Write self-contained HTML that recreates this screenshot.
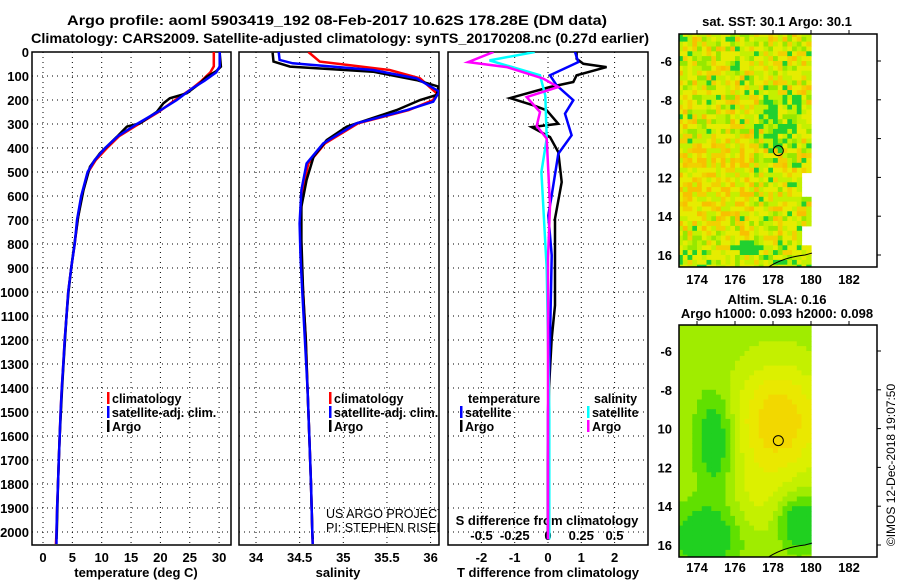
<!DOCTYPE html>
<html><head><meta charset="utf-8">
<style>
html,body{margin:0;padding:0;background:#fff;}
svg{display:block;font-family:"Liberation Sans",Arial,sans-serif;}
.t{font-weight:bold;font-size:13px;fill:#000;}
.l{font-weight:bold;font-size:12.5px;fill:#000;}
.ti{font-weight:bold;font-size:14px;fill:#000;}
.g{stroke:#000;stroke-width:1;stroke-dasharray:1 4;fill:none;}
.f{stroke:#000;stroke-width:1.5;fill:none;}
</style></head>
<body>
<svg id="c" width="900" height="580" viewBox="0 0 900 580">
<defs>
<clipPath id="cp1"><rect x="32" y="52" width="199" height="493"/></clipPath>
<clipPath id="cp2"><rect x="239" y="52" width="200" height="493"/></clipPath>
<clipPath id="cp3"><rect x="448" y="52" width="200" height="493"/></clipPath>
<clipPath id="cpm1"><rect x="679" y="34" width="198" height="233"/></clipPath>
<clipPath id="cpm2"><rect x="679" y="325" width="198" height="232"/></clipPath>
</defs>
<text class="ti" x="337" y="25" text-anchor="middle" textLength="540" lengthAdjust="spacingAndGlyphs">Argo profile: aoml 5903419_192 08-Feb-2017 10.62S 178.28E (DM data)</text>
<text class="ti" x="340" y="43" text-anchor="middle" textLength="618" lengthAdjust="spacingAndGlyphs">Climatology: CARS2009. Satellite-adjusted climatology: synTS_20170208.nc (0.27d earlier)</text>
<g id="layer"></g>
</svg>
<script>
// ---------- data ----------
const depthTicks = [0,100,200,300,400,500,600,700,800,900,1000,1100,1200,1300,1400,1500,1600,1700,1800,1900,2000];
const tempTicks = [0,5,10,15,20,25,30];
const salTicks = [34,34.5,35,35.5,36];
const salTickLabels = ["34","34.5","35","35.5","36"];
const tdiffTicks = [-2,-1,0,1,2];
const sdiffTicks = [-0.5,-0.25,0,0.25,0.5];
const sdiffTickLabels = ["-0.5","-0.25","0","0.25","0.5"];

const climTDepth = [0,60,85,120,150,200,250,300,350,400,450,500,600,700,800,900,1000,1100,1200,1300,1400,1500,1600,1700,1800,1900,2000,2050];
const climT = [29.1,29.1,28.5,27,25.5,22.5,19.7,16.3,13.0,10.9,9.0,7.7,6.6,5.9,5.4,4.8,4.3,4.0,3.7,3.45,3.2,3.0,2.85,2.7,2.55,2.4,2.3,2.2];
const satT = [30.1,30.1,29.5,27.5,25.5,22.8,19.5,16,12.8,10.6,8.8,7.6,6.5,5.8,5.4,4.8,4.3,4.0,3.7,3.45,3.2,3.0,2.85,2.7,2.55,2.4,2.3,2.3];
const argoTDepth = [4,61,80,103,129,172,193,214,249,297,311,353,422,478,575,686,783,900,1000,1100,1200,1300,1400,1500,1600,1700,1800,1900,2000,2030];
const argoT = [30.1,30.3,29.5,27.9,26.8,24.5,21.6,20.5,19.4,16.5,14.3,12.6,9.7,8.0,6.9,6.0,5.45,4.8,4.35,4.0,3.75,3.5,3.25,3.05,2.85,2.7,2.55,2.45,2.35,2.3];

const climSDepth = [0,40,50,75,110,172,200,242,297,381,464,575,714,853,1000,1200,1400,1600,1800,2000,2050];
const climS = [34.6,34.73,34.96,35.53,35.88,36.07,36.03,35.75,35.17,34.79,34.6,34.53,34.51,34.52,34.54,34.57,34.59,34.61,34.63,34.645,34.65];
const satSDepth = [0,33,47,75,110,165,207,242,297,381,464,575,714,853,1000,1200,1400,1600,1800,2000,2050];
const satS = [34.26,34.27,34.42,35.34,35.84,36.1,36.03,35.73,35.15,34.77,34.58,34.52,34.5,34.51,34.53,34.56,34.59,34.61,34.63,34.645,34.65];
const argoSDepth = [3,40,61,82,117,144,179,200,242,311,367,436,533,644,783,1000,1200,1400,1600,1800,2000,2030];
const argoS = [34.19,34.2,34.39,35.34,35.84,36.09,36.07,35.88,35.61,35.04,34.81,34.66,34.58,34.52,34.52,34.54,34.57,34.59,34.61,34.63,34.645,34.65];

const argoTdDepth = [0,28,49,63,97,125,146,192,222,243,299,313,354,417,542,694,847,1056,1194,1400,1700,2030];
const argoTd = [0.86,0.86,1.06,1.76,0.86,0.76,0.06,-1.14,-0.44,-0.04,0.31,-0.49,0.06,0.31,0.41,0.21,0.21,0.21,0.11,0.03,0,0];
const satTdDepth = [0,42,97,139,201,257,347,424,597,681,847,1200,1500,2030];
const satTd = [0.81,0.91,0.06,0.26,0.76,0.51,0.71,0.31,0.11,0.01,0.11,0.06,0,0];
const argoSdDepth = [0,42,63,111,146,188,250,308,361,639,861,1500,2030];
const argoSd = [-0.41,-0.6,-0.31,-0.035,0.077,-0.16,-0.06,-0.085,-0.01,0.015,0,0,0];
const satSdDepth = [0,35,97,181,361,500,903,1500,2030];
const satSd = [-0.1,-0.44,-0.06,-0.02,-0.01,-0.05,-0.01,0.01,0.01];

const lonTicks = [174,176,178,180,182];
const latTicks = [-6,-8,-10,-12,-14,-16];
const latTickLabels = ["-6","-8","10","12","14","16"];
const argoLon = 178.28, argoLat = -10.62;

// ---------- scales ----------
const yD = d => 52 + d*0.24;
const xT = t => 43 + t*5.87;
const xS = s => 256 + (s-34)*87.3;
const xTd = t => 548 + t*33.3;
const xSd = s => 548 + s*133;
const mxLon = l => 697 + (l-174)*19;
const myLat1 = l => 61 + (-6-l)*19.4;
const myLat2 = l => 351 + (-6-l)*19.4;

const NS = "http://www.w3.org/2000/svg";
const layer = document.getElementById('layer');
function mk(tag, parent){ const e=document.createElementNS(NS,tag); (parent||layer).appendChild(e); return e; }
function txt(s,x,y,cls,anchor,parent){ const e=mk('text',parent); e.textContent=s; e.setAttribute('x',x); e.setAttribute('y',y); if(cls) e.setAttribute('class',cls); if(anchor) e.setAttribute('text-anchor',anchor); return e; }

// ---------- panels ----------
const panels = [
 {x0:32,x1:231,cp:'cp1',name:'temperature-panel'},
 {x0:239,x1:439,cp:'cp2',name:'salinity-panel'},
 {x0:448,x1:648,cp:'cp3',name:'difference-panel'}
];
panels.forEach(p=>{
  const g = mk('g');
  
  
  depthTicks.forEach(d=>{
    if(d===0) return;
    const l=mk('line',g); l.setAttribute('class','g');
    l.setAttribute('x1',p.x0); l.setAttribute('x2',p.x1); l.setAttribute('y1',yD(d)); l.setAttribute('y2',yD(d));
    
    
  });
  p.g=g;
});
function vgrid(g,xs){ xs.forEach(x=>{ const l=mk('line',g); l.setAttribute('class','g'); l.setAttribute('x1',x); l.setAttribute('x2',x); l.setAttribute('y1',52); l.setAttribute('y2',545);
  
   }); }
vgrid(panels[0].g, tempTicks.map(xT));
vgrid(panels[1].g, salTicks.map(xS));
vgrid(panels[2].g, tdiffTicks.map(xTd));
panels.forEach(p=>{
  const r=mk('rect',p.g); r.setAttribute('class','f'); r.setAttribute('x',p.x0); r.setAttribute('y',52); r.setAttribute('width',p.x1-p.x0); r.setAttribute('height',493);
  
  
});
depthTicks.forEach(d=>{
  const t=txt(String(d),29,yD(d)+5,'t','end');
  
  
});
tempTicks.forEach(v=>{ const t=txt(String(v),xT(v),562,'t','middle');
  
   });
salTicks.forEach((v,i)=>{ const t=txt(salTickLabels[i],xS(v),562,'t','middle');
  
   });
tdiffTicks.forEach(v=>{ const t=txt(String(v),xTd(v),562,'t','middle');
  
   });
sdiffTicks.forEach((v,i)=>{ const t=txt(sdiffTickLabels[i],xSd(v),540,'t','middle');
  
   });
let at;
at=txt('temperature (deg C)',136,577,'t','middle');


at=txt('salinity',338,577,'t','middle');


at=txt('T difference from climatology',548,577,'t','middle');


at=txt('S difference from climatology',547,525,'t','middle');



function series(depths, vals, xf, color, cp, name, w){
  const pl=mk('polyline');
  pl.setAttribute('points', depths.map((d,i)=>xf(vals[i]).toFixed(1)+','+yD(d).toFixed(1)).join(' '));
  pl.setAttribute('fill','none'); pl.setAttribute('stroke',color); pl.setAttribute('stroke-width',w||2.5);
  pl.setAttribute('clip-path','url(#'+cp+')');
  
  
}
series(climTDepth, climT, xT, '#ff0000','cp1','temperature-climatology-line');
series(argoTDepth, argoT, xT, '#000000','cp1','temperature-argo-line');
series(climTDepth, satT, xT, '#0000ff','cp1','temperature-satellite-line');
series(climSDepth, climS, xS, '#ff0000','cp2','salinity-climatology-line');
series(argoSDepth, argoS, xS, '#000000','cp2','salinity-argo-line');
series(satSDepth, satS, xS, '#0000ff','cp2','salinity-satellite-line');
series(argoTdDepth, argoTd, xTd, '#000000','cp3','t-diff-argo-line');
series(satTdDepth, satTd, xTd, '#0000ff','cp3','t-diff-satellite-line');
series(satSdDepth, satSd, xSd, '#00ffff','cp3','s-diff-satellite-line');
series(argoSdDepth, argoSd, xSd, '#ff00ff','cp3','s-diff-argo-line');

function legItem(x,y,color,label,name){
  const g=mk('g');
  
  
  const r=mk('rect',g); r.setAttribute('x',x); r.setAttribute('y',y-11); r.setAttribute('width',2.5); r.setAttribute('height',12); r.setAttribute('fill',color);
  txt(label,x+5,y,'l',null,g);
}
legItem(107,403,'#ff0000','climatology','legend-climatology');
legItem(107,417,'#0000ff','satellite-adj. clim.','legend-satellite-temperature');
legItem(107,431,'#000000','Argo','legend-argo-temperature');
legItem(329,403,'#ff0000','climatology','legend-climatology-salinity');
legItem(329,417,'#0000ff','satellite-adj. clim.','legend-satellite-salinity');
legItem(329,431,'#000000','Argo','legend-argo-salinity');
at=txt('temperature',468,403,'l');


at=txt('salinity',594,403,'l');


legItem(460,417,'#0000ff','satellite','legend-t-satellite');
legItem(460,431,'#000000','Argo','legend-t-argo');
legItem(587,417,'#00ffff','satellite','legend-s-satellite');
legItem(587,431,'#ff00ff','Argo','legend-s-argo');
const cr=mk('g'); cr.setAttribute('clip-path','url(#cp2)');


let c1=txt('US ARGO PROJECT',326,518,null,null,cr); c1.setAttribute('font-size','12.5');
let c2=txt('PI: STEPHEN RISER',326,532,null,null,cr); c2.setAttribute('font-size','12.5');

// ---------- maps ----------
function hash(i,j,s){ let h=(i*374761393 + j*668265263 + s*1442695041)|0; h=(h^(h>>>13))*1274126177|0; h=h^(h>>>16); return ((h>>>0)%1000)/1000; }
function drawMap(top, myLat, cp, kind, name){
  const g=mk('g');
  
  
  const cells=mk('g',g); cells.setAttribute('clip-path','url(#'+cp+')');
  const step=0.25;
  for(let lon=173; lon<180; lon+=step){
    for(let lat=-4.5; lat>-16.75; lat-=step){
      const i=Math.round(lon*4), j=Math.round(-lat*4);
      let col;
      if(kind==='sst'){
        const r=hash(i,j,1);
        if(lon>=179.4 && ((lat<-11.5 && lat>-13.0) || (lat<-14.3 && lat>-15.3))) continue;
        const greenBias = (lon>177.4 && lon<179.4 && lat>-10.5 && lat<-7.5)?0.35:(lat<-15?0.15:0);
        const yellowBias = (lon<177 && lat<-10 && lat>-14)?0.2:0;
        const v=r+greenBias-yellowBias;
        col = v<0.25?'#f2d000':v<0.55?'#e6ec00':v<0.8?'#c4f000':v<0.93?'#96e800':'#20d030';
        if(v<0.08) col='#f8c000';
      } else {
        const dx1=(lon-178.2), dy1=(lat+9.5);
        let v = 0.55*Math.exp(-(dx1*dx1/5+dy1*dy1/8));
        v += 0.15*Math.exp(-((lon-177)*(lon-177)/2+(lat+13.5)*(lat+13.5)/4));
        v -= 0.45*Math.exp(-((lon-174.8)*(lon-174.8)/0.8+(lat+10.5)*(lat+10.5)/5));
        v -= 0.5*Math.exp(-((lon-179.3)*(lon-179.3)/1+(lat+14.8)*(lat+14.8)/1.5));
        v -= 0.5*Math.exp(-((lon-174.3)*(lon-174.3)/2.5+(lat+15.5)*(lat+15.5)/2.5));
        v += 0.62;
        col = v>1.05?'#f2d800':v>0.92?'#eae800':v>0.8?'#dcf000':v>0.68?'#c4f000':v>0.55?'#a0ec00':v>0.4?'#60e000':'#20d020';
      }
      const r=mk('rect',cells);
      r.setAttribute('x',mxLon(lon).toFixed(1)); r.setAttribute('y',myLat(lat).toFixed(1));
      r.setAttribute('width',(step*19+0.6).toFixed(1)); r.setAttribute('height',(step*19.4+0.6).toFixed(1));
      r.setAttribute('fill',col);
    }
  }
  const fr=mk('rect',g); fr.setAttribute('class','f'); fr.setAttribute('x',679); fr.setAttribute('y',top); fr.setAttribute('width',198); fr.setAttribute('height',top===34?233:232);
  lonTicks.forEach(l=>{
    txt(String(l),mxLon(l),top+(top===34?250:247),'t','middle',g);
    const tk=mk('line',g); tk.setAttribute('x1',mxLon(l)); tk.setAttribute('x2',mxLon(l)); tk.setAttribute('y1',top); tk.setAttribute('y2',top-4); tk.setAttribute('stroke','#000');
  });
  latTicks.forEach((l,k)=>{
    txt(latTickLabels[k],672,myLat(l)+5,'t','end',g);
    const tk=mk('line',g); tk.setAttribute('x1',877); tk.setAttribute('x2',881); tk.setAttribute('y1',myLat(l)); tk.setAttribute('y2',myLat(l)); tk.setAttribute('stroke','#000');
  });
  const cst=mk('path',g); cst.setAttribute('clip-path','url(#'+cp+')');
  cst.setAttribute('d','M769 '+(myLat(-16.6))+' Q785 '+(myLat(-16.1))+' 805 '+myLat(-16.0)+' L812 '+myLat(-15.9));
  cst.setAttribute('stroke','#000'); cst.setAttribute('fill','none');
  const ci=mk('circle',g);
  ci.setAttribute('cx',mxLon(argoLon)); ci.setAttribute('cy',myLat(argoLat)); ci.setAttribute('r',5);
  ci.setAttribute('fill','none'); ci.setAttribute('stroke','#000');
  
  
}
drawMap(34, myLat1, 'cpm1', 'sst', 'sst-map');
drawMap(325, myLat2, 'cpm2', 'sla', 'sla-map');
at=txt('sat. SST: 30.1 Argo: 30.1',777,26,'t','middle');


at=txt('Altim. SLA: 0.16',777,304,'t','middle');


at=txt('Argo h1000: 0.093 h2000: 0.098',777,318,'t','middle');


at=txt('©IMOS 12-Dec-2018 19:07:50',0,0,null,'middle');
at.setAttribute('font-size','12');
at.setAttribute('transform','translate(895,465) rotate(-90)');


</script>
</body></html>
